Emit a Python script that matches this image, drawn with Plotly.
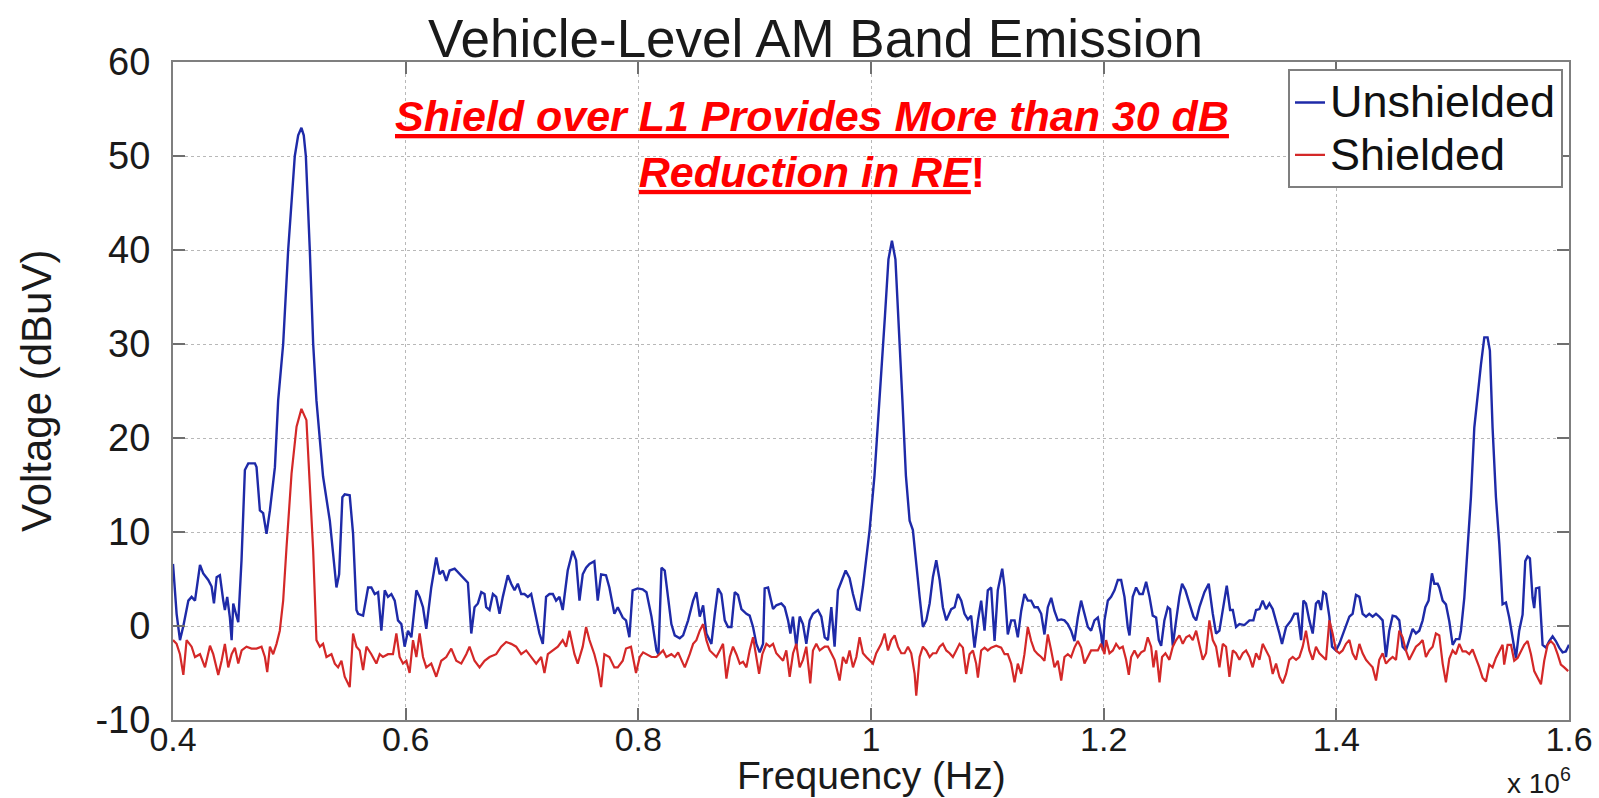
import plotly.graph_objects as go

# Unshielded spectrum: frequency (kHz) and level (dBuV)
unshielded_freq_khz = [
    400.0, 403.1, 406.0, 408.9, 413.2, 416.0, 418.9, 423.2, 426.0, 430.3, 433.2, 435.2, 437.5, 440.3,
    443.2, 444.6, 446.6, 448.9, 450.4, 451.8, 454.1, 456.1, 458.9, 461.8, 464.7, 470.4, 471.8, 474.7,
    477.5, 480.4, 483.3, 487.6, 490.4, 494.7, 499.0, 504.7, 507.6, 510.4, 512.4, 514.2, 517.6, 520.5,
    523.3, 529.0, 534.8, 539.1, 540.5, 542.8, 545.6, 547.6, 551.9, 554.8, 557.7, 559.1, 563.4, 567.7,
    570.5, 573.4, 576.3, 579.1, 582.0, 584.8, 587.7, 590.6, 593.4, 596.3, 599.1, 602.0, 604.9, 609.2,
    612.0, 614.9, 617.7, 622.0, 626.3, 629.2, 632.0, 634.9, 637.8, 642.1, 646.4, 650.6, 653.5, 656.4,
    659.2, 662.1, 665.0, 667.8, 669.2, 672.1, 675.0, 677.8, 680.7, 683.5, 687.8, 690.7, 693.6, 696.4,
    699.3, 702.1, 705.0, 707.9, 710.7, 715.0, 717.9, 720.7, 723.6, 726.5, 729.3, 732.2, 735.0, 739.3,
    743.6, 746.5, 749.4, 752.2, 755.1, 758.0, 762.2, 765.1, 768.0, 772.2, 775.1, 779.4, 782.3, 786.6,
    789.4, 792.3, 795.1, 799.4, 803.7, 807.0, 811.3, 815.6, 817.3, 819.9, 822.7, 825.6, 828.4, 831.3,
    835.6, 838.5, 842.8, 847.1, 849.9, 852.8, 855.7, 858.5, 862.8, 865.7, 868.5, 871.4, 874.3, 877.1,
    880.0, 882.9, 885.7, 888.6, 892.9, 895.7, 898.6, 901.5, 904.3, 907.2, 908.6, 911.5, 915.8, 918.6,
    922.9, 925.8, 928.7, 930.7, 932.9, 935.8, 938.7, 941.5, 944.4, 947.3, 950.1, 954.4, 957.3, 960.2,
    963.0, 965.9, 968.7, 971.6, 974.5, 978.2, 981.6, 984.5, 987.9, 990.2, 993.1, 995.9, 998.8, 1003.0,
    1008.0, 1012.0, 1015.0, 1018.0, 1021.0, 1024.0, 1027.0, 1030.0, 1033.2, 1036.0, 1038.9, 1041.8,
    1044.6, 1047.5, 1050.4, 1053.2, 1056.1, 1059.0, 1061.8, 1064.7, 1069.0, 1071.9, 1074.7, 1077.6,
    1080.4, 1083.3, 1086.1, 1089.0, 1091.9, 1094.7, 1097.6, 1100.4, 1103.3, 1106.2, 1109.0, 1112.8,
    1114.8, 1117.6, 1120.5, 1123.4, 1126.2, 1129.1, 1131.9, 1134.8, 1137.7, 1140.5, 1143.4, 1146.3,
    1149.1, 1152.0, 1154.9, 1157.7, 1160.6, 1163.5, 1166.3, 1169.2, 1172.0, 1174.9, 1177.8, 1180.6,
    1183.5, 1186.4, 1189.2, 1192.1, 1195.0, 1197.8, 1199.3, 1200.7, 1203.6, 1206.4, 1209.3, 1212.2,
    1215.0, 1217.9, 1220.7, 1222.2, 1225.0, 1227.9, 1230.8, 1233.6, 1236.5, 1239.4, 1242.2, 1245.1,
    1247.4, 1249.4, 1252.2, 1255.1, 1257.1, 1259.4, 1262.3, 1265.1, 1267.4, 1270.3, 1273.7, 1277.2,
    1279.5, 1282.3, 1286.6, 1290.3, 1293.8, 1296.6, 1299.5, 1302.4, 1305.8, 1308.7, 1311.0, 1313.8,
    1316.7, 1321.0, 1325.3, 1328.7, 1331.0, 1333.9, 1336.7, 1339.6, 1342.5, 1345.3, 1348.2, 1351.1,
    1353.3, 1356.8, 1361.1, 1363.9, 1366.8, 1369.7, 1371.7, 1373.9, 1376.8, 1379.7, 1382.5, 1384.8,
    1386.8, 1388.8, 1391.1, 1394.0, 1396.3, 1399.7, 1402.6, 1405.4, 1408.3, 1411.2, 1414.0, 1416.9,
    1419.8, 1422.6, 1425.5, 1428.3, 1431.2, 1434.1, 1436.9, 1439.8, 1442.7, 1445.5, 1448.4, 1451.3,
    1454.1, 1457.0, 1459.8, 1462.7, 1465.6, 1468.4, 1471.3, 1474.2, 1476.5, 1479.3, 1482.2, 1484.2,
    1487.1, 1488.5, 1491.4, 1494.2, 1497.1, 1500.0, 1502.8, 1505.7, 1507.1, 1510.0, 1512.8, 1515.7,
    1518.6, 1521.4, 1524.3, 1527.2, 1530.0, 1532.0, 1534.3, 1537.2, 1540.1, 1542.9, 1545.8, 1548.6,
    1551.5, 1554.4, 1557.2, 1560.1, 1562.4, 1564.4, 1566.4, 1568.7, 1570.1, 1571.6, 1574.4, 1577.3,
    1580.2, 1583.0, 1585.9, 1588.7, 1591.6, 1594.5, 1597.3, 1600.0,
]
unshielded_dbuv = [
    6.6, 1.3, -1.5, 0.0, 2.7, 3.1, 2.7, 6.5, 5.6, 4.9, 4.2, 2.4, 5.2, 5.4,
    2.7, 1.7, 3.1, 0.9, -1.5, 2.4, 1.3, 0.4, 7.0, 16.6, 17.3, 17.3, 16.9, 12.3,
    12.0, 9.8, 12.3, 16.9, 24.0, 30.0, 40.0, 50.0, 52.2, 53.0, 52.2, 50.0, 40.0, 30.0,
    24.0, 15.9, 11.2, 6.3, 4.1, 5.5, 13.7, 14.0, 13.9, 9.8, 1.7, 1.3, 1.1, 4.1,
    4.1, 3.4, 3.6, -0.5, 3.8, 3.1, 3.4, 2.7, 0.6, 0.2, -2.2, -0.5, -1.2, 3.8,
    3.1, 2.0, -0.3, 4.1, 7.3, 5.5, 5.9, 4.8, 5.9, 6.1, 5.5, 5.0, 4.6, -0.8,
    2.0, 2.4, 3.6, 3.4, 2.0, 1.7, 3.4, 3.1, 1.3, 3.1, 5.4, 4.5, 3.8, 4.5,
    3.4, 3.4, 3.1, 3.4, 1.7, -0.8, -1.9, 3.1, 3.4, 3.4, 2.7, 3.1, 1.7, 5.9,
    8.0, 7.0, 2.7, 5.5, 6.2, 6.6, 6.9, 2.7, 5.5, 5.4, 4.1, 1.3, 2.0, 0.9,
    0.6, -1.2, 3.8, 4.0, 3.9, 3.6, 1.0, -2.6, -3.0, 6.2, 5.9, 3.1, 0.2, -1.0,
    -1.3, -1.0, 0.6, 2.7, 3.6, 1.0, 2.2, -0.8, -1.9, 1.3, 4.0, 3.4, 0.6, -0.1,
    -0.1, 3.6, 3.3, 1.8, 1.3, 1.1, -0.1, -1.9, -2.8, -1.9, 4.0, 4.1, 1.8, 2.2,
    2.4, 2.0, 0.6, -0.8, 1.0, -2.2, 1.0, 0.2, -1.9, 0.6, 1.3, 1.7, 1.0, -1.2,
    -1.5, 2.0, -2.2, 3.8, 4.7, 5.9, 5.1, 3.4, 1.8, 1.7, 4.2, 7.3, 10.2, 16.0,
    25.0, 33.0, 39.0, 41.0, 39.0, 32.0, 24.0, 16.0, 11.2, 10.2, 6.3, 3.1,
    -0.1, 0.6, 2.4, 5.2, 7.0, 4.9, 2.0, 0.6, 1.8, 2.0, 3.4, 2.7,
    1.3, 0.7, 1.1, -2.3, 0.6, 2.7, -0.5, 3.8, 4.1, -1.6, 3.8, 6.1,
    4.1, -0.9, 0.6, 0.6, -1.2, 1.6, 3.4, 2.7, 2.7, 2.0, 2.0, 1.3,
    -0.9, 2.0, 3.0, 1.6, 0.6, 0.7, 0.6, 0.2, -0.5, -1.6, 0.9, 2.7,
    1.3, -0.1, -0.5, 0.6, 0.9, -0.9, -2.6, 0.6, 2.7, 3.1, 3.8, 4.9,
    4.9, 3.1, -0.1, -1.0, 3.1, 4.1, 3.4, 3.4, 4.7, 3.1, 1.1, 0.9,
    -1.5, -2.1, 0.6, 2.0, 1.8, -2.1, 0.6, 3.1, 4.5, 3.8, 2.4, 1.0,
    0.6, 2.0, 3.6, 4.5, 1.3, -0.8, -0.5, 1.7, 4.3, 1.7, 1.7, -0.1,
    0.2, 0.1, 0.6, 0.6, 1.7, 1.8, 2.7, 1.8, 2.4, 1.8, 0.6, -0.8,
    -1.9, -0.1, 0.6, 1.3, 1.3, -1.5, 2.7, 2.4, 0.6, -0.8, 2.4, 2.7,
    1.7, 3.6, 3.4, 1.0, -2.2, -2.6, -1.9, -1.0, -0.1, 1.0, 1.3, 3.3,
    3.1, 1.3, 1.0, 1.3, 1.0, 1.3, 1.0, 0.6, -3.3, -0.5, 1.1, 1.0,
    0.6, -2.2, -2.6, -1.5, -0.3, -0.8, -0.5, 0.6, 2.0, 2.7, 5.6, 4.5,
    4.5, 4.1, 2.7, 2.3, 0.5, -2.0, -1.4, -1.4, -0.5, 3.0, 8.7, 13.7,
    21.1, 24.6, 27.8, 30.7, 30.7, 29.3, 21.1, 13.7, 8.7, 2.3, 2.5, 0.9,
    -1.2, -3.4, -0.5, 1.2, 6.9, 7.4, 7.2, 3.0, 1.9, 4.0, 4.1, -2.0,
    -2.3, -1.6, -1.1, -1.6, -2.3, -2.8, -2.7, -2.0,
]

# Shielded spectrum: frequency (kHz) and level (dBuV)
shielded_freq_khz = [
    400.0, 403.1, 406.0, 408.9, 411.7, 416.0, 418.9, 423.2, 427.5, 431.8, 434.6, 438.9, 441.8, 444.6,
    447.5, 450.4, 453.2, 456.1, 459.0, 463.2, 467.5, 471.8, 476.1, 479.0, 481.0, 483.3, 486.1, 489.0,
    491.8, 494.7, 497.6, 501.9, 506.2, 510.4, 514.7, 517.6, 520.5, 523.3, 526.2, 529.0, 531.9, 536.2,
    539.1, 541.9, 544.8, 547.6, 551.9, 554.8, 557.7, 560.5, 563.4, 566.3, 570.5, 574.8, 577.7, 580.5,
    584.8, 589.1, 592.0, 594.8, 597.7, 600.6, 603.4, 606.3, 609.2, 612.0, 614.9, 617.7, 622.0, 626.3,
    630.6, 634.9, 639.2, 643.5, 647.8, 652.1, 654.9, 659.2, 663.5, 667.8, 672.1, 677.8, 682.1, 686.4,
    690.7, 695.0, 699.3, 703.6, 707.9, 712.2, 716.5, 719.3, 722.2, 726.5, 730.8, 735.0, 737.9, 740.8,
    745.1, 747.9, 752.2, 755.1, 758.0, 762.2, 765.1, 768.0, 770.8, 775.1, 779.4, 782.3, 786.6, 789.4,
    793.7, 798.0, 801.2, 804.1, 807.0, 811.3, 815.6, 818.4, 821.3, 824.1, 828.4, 831.3, 834.2, 837.0,
    839.9, 844.2, 847.1, 849.9, 852.8, 855.7, 858.5, 861.4, 864.2, 867.1, 870.0, 872.8, 875.7, 878.6,
    881.4, 884.3, 887.2, 890.0, 892.9, 895.7, 898.6, 901.5, 903.8, 906.6, 910.1, 912.9, 915.8, 918.6,
    921.5, 924.4, 927.2, 930.1, 933.0, 935.8, 938.7, 941.5, 944.4, 947.8, 950.1, 953.0, 955.9, 960.2,
    963.0, 965.9, 968.7, 973.0, 975.9, 978.8, 981.6, 984.5, 987.4, 990.2, 993.1, 995.9, 998.8, 1001.7,
    1004.5, 1008.8, 1011.7, 1014.6, 1017.4, 1020.3, 1023.2, 1026.0, 1028.9, 1031.8, 1034.6, 1037.5,
    1038.9, 1041.8, 1044.6, 1047.5, 1050.4, 1053.2, 1056.1, 1059.0, 1061.8, 1064.7, 1067.6, 1070.4,
    1073.3, 1076.1, 1079.0, 1081.8, 1084.7, 1087.6, 1090.4, 1091.9, 1094.7, 1097.6, 1100.4, 1103.3,
    1107.6, 1111.9, 1114.8, 1117.6, 1120.5, 1123.4, 1126.2, 1129.1, 1131.9, 1134.8, 1137.7, 1140.5,
    1143.4, 1146.3, 1149.1, 1152.0, 1154.9, 1157.7, 1160.6, 1163.5, 1166.3, 1169.2, 1172.0, 1174.9,
    1177.8, 1180.6, 1183.5, 1186.4, 1189.2, 1192.1, 1195.0, 1197.8, 1200.7, 1202.1, 1205.0, 1207.9,
    1210.7, 1213.6, 1216.4, 1219.3, 1221.6, 1223.6, 1226.5, 1229.3, 1232.2, 1235.1, 1237.9, 1240.8,
    1242.8, 1245.1, 1248.0, 1250.2, 1253.1, 1256.5, 1259.4, 1262.3, 1265.1, 1268.0, 1270.9, 1273.7,
    1276.6, 1279.5, 1282.3, 1285.2, 1288.0, 1290.9, 1293.8, 1296.6, 1299.5, 1302.4, 1305.2, 1308.1,
    1311.0, 1313.8, 1316.7, 1319.6, 1322.4, 1325.3, 1328.1, 1331.0, 1333.9, 1336.7, 1339.6, 1342.5,
    1345.3, 1348.2, 1351.1, 1353.9, 1356.8, 1359.6, 1362.5, 1365.4, 1368.2, 1371.1, 1373.9, 1376.8,
    1379.7, 1382.5, 1385.4, 1388.2, 1391.1, 1394.0, 1396.8, 1399.7, 1402.6, 1405.4, 1408.3, 1411.2,
    1414.0, 1416.9, 1419.8, 1422.6, 1425.5, 1428.3, 1431.2, 1434.1, 1436.9, 1439.8, 1442.7, 1445.5,
    1448.4, 1451.3, 1454.1, 1457.0, 1459.8, 1462.7, 1465.6, 1468.4, 1471.3, 1474.2, 1477.0, 1479.9,
    1482.8, 1485.6, 1488.5, 1491.4, 1494.2, 1497.1, 1500.0, 1502.8, 1505.7, 1508.5, 1511.4, 1514.3,
    1517.1, 1520.0, 1522.9, 1525.7, 1528.6, 1531.5, 1534.3, 1537.2, 1540.1, 1542.9, 1544.3, 1547.2,
    1550.1, 1552.9, 1555.8, 1558.7, 1561.5, 1564.4, 1567.3, 1570.1, 1573.0, 1575.9, 1578.7, 1581.6,
    1584.4, 1587.3, 1590.2, 1593.0, 1595.9, 1599.3,
]
shielded_dbuv = [
    -1.5, -1.9, -3.0, -5.2, -1.5, -2.2, -3.3, -3.0, -4.4, -2.1, -3.0, -5.2, -3.7, -1.9,
    -4.4, -3.0, -2.3, -4.0, -2.6, -2.2, -2.4, -2.4, -2.2, -3.3, -4.9, -2.2, -3.0, -1.9,
    -0.5, 2.7, 8.4, 16.2, 21.2, 23.1, 21.9, 15.1, 8.0, -1.5, -2.2, -1.9, -3.3, -3.0,
    -4.0, -4.4, -3.7, -5.4, -6.5, -0.8, -2.2, -2.6, -4.7, -2.2, -3.0, -4.0, -3.0, -3.3,
    -3.0, -3.0, -0.8, -3.3, -4.0, -3.7, -5.0, -1.5, -3.3, -0.8, -3.3, -4.4, -4.0, -5.4,
    -3.7, -3.3, -2.4, -3.7, -4.0, -3.0, -2.2, -3.7, -4.4, -3.7, -3.3, -3.0, -2.2, -1.7,
    -1.9, -2.2, -3.0, -2.6, -3.3, -4.0, -3.3, -5.0, -3.0, -2.6, -2.2, -1.5, -2.2, -0.5,
    -3.0, -4.0, -2.2, -0.1, -1.5, -3.0, -4.4, -6.5, -3.0, -3.3, -4.4, -4.4, -3.7, -2.4,
    -2.2, -5.0, -3.3, -2.8, -3.0, -3.3, -3.3, -3.0, -2.6, -3.3, -3.0, -3.3, -2.8, -3.6,
    -4.4, -3.0, -1.9, -1.5, -0.5, 0.2, -1.5, -2.6, -3.0, -3.3, -2.6, -1.9, -5.6, -3.3,
    -2.2, -3.0, -4.0, -3.8, -4.4, -2.6, -1.2, -3.3, -5.1, -3.0, -1.9, -2.2, -1.9, -2.9,
    -3.3, -3.7, -2.6, -5.4, -2.9, -1.9, -4.4, -3.6, -2.2, -6.1, -2.6, -1.9, -2.6, -2.2,
    -2.2, -2.9, -3.6, -5.8, -3.3, -4.0, -2.6, -4.4, -3.3, -1.2, -2.9, -3.3, -3.6, -4.0,
    -2.9, -1.9, -0.8, -2.6, -1.5, -1.0, -2.2, -2.9, -2.9, -2.2, -2.9, -5.1,
    -7.4, -3.3, -2.2, -2.6, -3.3, -2.9, -2.9, -2.2, -1.9, -2.6, -2.9, -3.3,
    -2.6, -1.9, -2.3, -5.1, -3.0, -2.6, -4.0, -5.5, -2.6, -2.3, -2.6, -2.3,
    -2.1, -2.3, -3.0, -3.0, -4.0, -6.0, -4.0, -5.1, -3.0, -0.1, -1.6, -2.6,
    -3.0, -3.3, -3.7, -0.9, -2.6, -4.4, -3.7, -5.8, -3.3, -3.0, -3.3, -2.3,
    -1.6, -2.3, -4.0, -3.3, -2.6, -2.6, -2.6, -1.9, -3.0, -1.5, -2.9, -2.6,
    -1.9, -2.4, -2.2, -3.6, -5.2, -3.3, -2.6, -3.3, -2.8, -2.6, -1.2, -2.2,
    -4.4, -2.6, -6.0, -3.3, -2.9, -3.6, -2.2, -1.5, -1.0, -1.9, -1.2, -1.0,
    -1.5, -0.5, -2.2, -3.6, -2.9, 0.6, -1.5, -2.2, -4.4, -1.9, -2.2, -5.4,
    -2.6, -2.9, -3.6, -2.9, -2.6, -3.3, -4.4, -2.9, -3.6, -1.9, -2.6, -3.3,
    -5.1, -4.0, -5.4, -6.1, -5.1, -3.6, -3.3, -3.6, -3.3, -2.2, -0.5, -2.6,
    -3.6, -2.2, -2.9, -3.3, -3.6, 0.6, -0.8, -2.6, -2.9, -2.6, -1.9, -1.5,
    -2.9, -3.6, -1.9, -2.9, -3.6, -4.0, -4.4, -5.8, -3.6, -2.9, -4.0, -3.6,
    -3.3, -3.6, -0.5, -1.2, -2.6, -3.6, -2.9, -2.2, -1.9, -1.5, -3.3, -2.6,
    -2.2, -0.8, -1.0, -4.0, -6.0, -3.5, -2.6, -3.0, -1.9, -2.7, -2.7, -3.0,
    -2.5, -3.4, -4.4, -5.5, -5.9, -4.1, -4.4, -3.4, -2.7, -2.0, -4.1, -2.0,
    -2.0, -3.7, -3.4, -2.7, -2.0, -1.6, -3.0, -4.8, -5.5, -6.2, -3.7, -2.0,
    -1.6, -2.0, -3.0, -4.1, -4.4, -4.8,
]

# Axis ticks (frequency shown in units of 10^6 Hz)
x_tick_mhz = [0.4, 0.6, 0.8, 1.0, 1.2, 1.4, 1.6]
x_tick_labels = ["0.4", "0.6", "0.8", "1", "1.2", "1.4", "1.6"]
y_ticks = [-10, 0, 10, 20, 30, 40, 50, 60]
y_tick_labels = ["-10", "0", "10", "20", "30", "40", "50", "60"]

FONT = "Liberation Sans, Arial, sans-serif"
LEGEND_TEXT_PX = 45

fig = go.Figure()
fig.add_trace(go.Scatter(
    x=[f * 1e3 for f in unshielded_freq_khz], y=unshielded_dbuv,
    mode="lines",
    name=f"<span style='font-size:{LEGEND_TEXT_PX}px'>Unshielded</span>",
    line=dict(color="#1e2aa8", width=2.4),
))
fig.add_trace(go.Scatter(
    x=[f * 1e3 for f in shielded_freq_khz], y=shielded_dbuv,
    mode="lines",
    name=f"<span style='font-size:{LEGEND_TEXT_PX}px'>Shielded</span>",
    line=dict(color="#d42828", width=2.2),
))

axis_common = dict(
    showline=True, linecolor="#7f7f7f", linewidth=2, mirror="ticks",
    ticks="inside", ticklen=12, tickwidth=2, tickcolor="#6f6f6f",
    showgrid=True, gridcolor="#b8b8b8", griddash="dot", gridwidth=1,
    zeroline=False,
)

fig.update_xaxes(
    range=[0.4e6, 1.6e6],
    tickvals=[t * 1e6 for t in x_tick_mhz], ticktext=x_tick_labels,
    tickfont=dict(family=FONT, size=34, color="#1a1a1a"),
    ticklabelstandoff=-12,
    **axis_common,
)
fig.update_yaxes(
    range=[-10, 60], tickvals=y_ticks, ticktext=y_tick_labels,
    tickfont=dict(family=FONT, size=38, color="#1a1a1a"),
    ticklabelstandoff=13,
    **axis_common,
)

fig.update_layout(
    width=1599, height=798,
    margin=dict(l=173, r=30, t=62, b=78, autoexpand=False),
    paper_bgcolor="white", plot_bgcolor="white",
    font=dict(family=FONT, color="#111111"),
    title=dict(
        text="Vehicle-Level AM Band Emission",
        x=0.51, xref="container", xanchor="center",
        y=1 - 38 / 798, yref="container", yanchor="middle",
        font=dict(family=FONT, size=53, color="#1a1a1a"),
    ),
    legend=dict(
        x=0.9957, y=0.989, xanchor="right", yanchor="top",
        bgcolor="white", bordercolor="#7f7f7f", borderwidth=2,
        font=dict(family=FONT, size=38, color="#111111"),
    ),
    showlegend=True,
)

annotations = [
    dict(
        text="<b><i><u>Shield over L1 Provides More than 30 dB</u></i></b><br>"
             "<b><i><u>Reduction in RE</u></i>!</b>",
        xref="paper", yref="paper", x=0.4577, y=0.876,
        xanchor="center", yanchor="middle", showarrow=False, align="center",
        font=dict(family=FONT, size=43, color="#ff0000"),
    ),
    dict(
        text="Frequency (Hz)", xref="paper", yref="paper",
        x=0.5, y=-0.0851, xanchor="center", yanchor="middle", showarrow=False,
        font=dict(family=FONT, size=39, color="#1a1a1a"),
    ),
    dict(
        text="Voltage (dBuV)", xref="paper", yref="paper",
        x=-0.0981, y=0.5, xanchor="center", yanchor="middle", showarrow=False,
        textangle=-90,
        font=dict(family=FONT, size=42, color="#1a1a1a"),
    ),
    dict(
        text="x 10<sup>6</sup>", xref="paper", yref="paper",
        x=1.003, y=-0.092, xanchor="right", yanchor="middle", showarrow=False,
        font=dict(family=FONT, size=28, color="#1a1a1a"),
    ),
]
fig.update_layout(annotations=annotations)

fig.write_html("out.html")
